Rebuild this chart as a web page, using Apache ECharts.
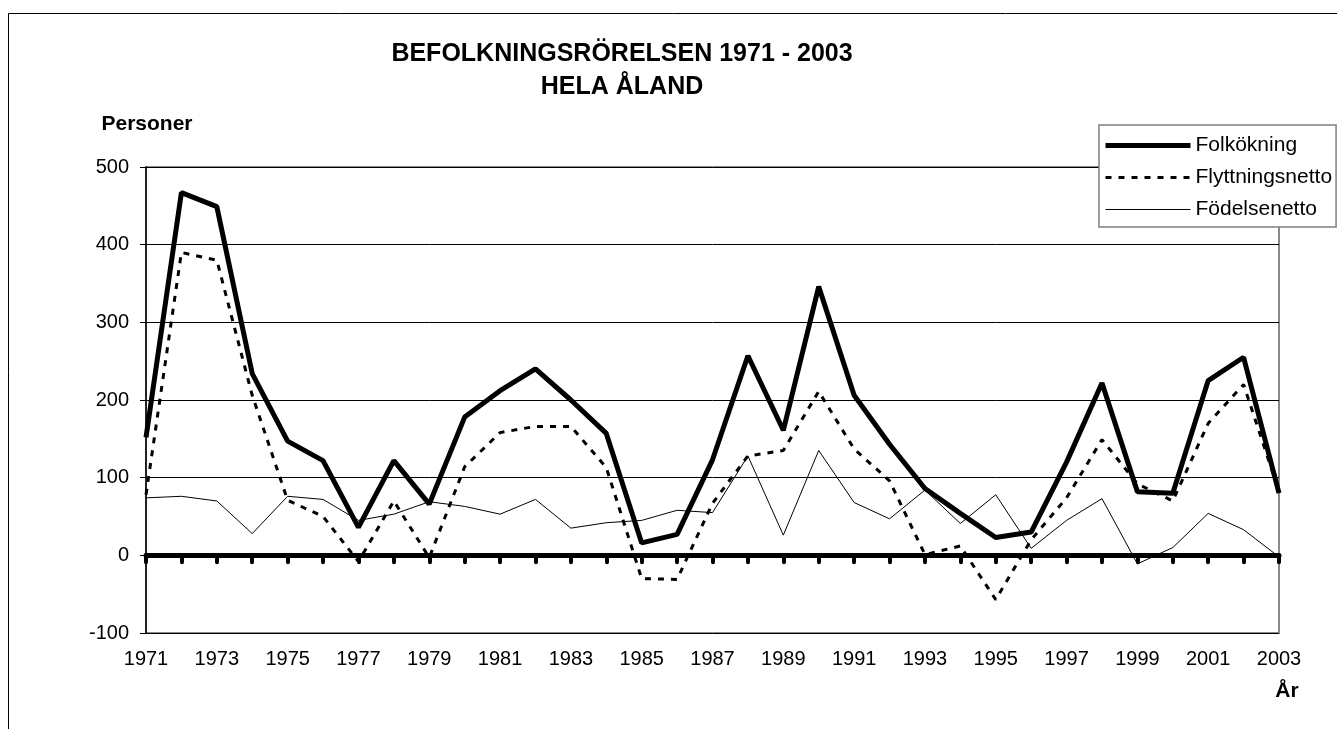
<!DOCTYPE html>
<html>
<head>
<meta charset="utf-8">
<title>Befolkningsrörelsen 1971 - 2003</title>
<script src="https://cdn.jsdelivr.net/npm/echarts@6/dist/echarts.min.js"></script>
<style>
    html, body { margin: 0; padding: 0; background: #fff; }
    #grafico { width: 1337px; height: 729px; }
</style>
</head>
<body>
<div id="grafico"></div>
<script>
    // datos
    var anios = ['1971', '1972', '1973', '1974', '1975', '1976', '1977', '1978', '1979', '1980',
        '1981', '1982', '1983', '1984', '1985', '1986', '1987', '1988', '1989', '1990',
        '1991', '1992', '1993', '1994', '1995', '1996', '1997', '1998', '1999', '2000',
        '2001', '2002', '2003'];
    var folkokning = [152, 467, 449, 234, 147, 122, 36, 122, 66, 178,
        212, 240, 200, 157, 16, 27, 123, 257, 161, 346,
        206, 143, 86, 54, 23, 30, 120, 222, 82, 80,
        225, 255, 80];
    var flyttningsnetto = [78, 390, 380, 206, 71, 50, -8, 70, -3, 114,
        158, 166, 166, 113, -30, -31, 67, 128, 135, 211,
        137, 96, 1, 12, -57, 20, 74, 149, 92, 70,
        170, 220, 82];
    var fodelsenetto = [74, 76, 70, 28, 76, 72, 45, 53, 69, 63,
        53, 72, 35, 42, 45, 58, 55, 128, 26, 135,
        68, 47, 84, 41, 78, 9, 45, 73, -11, 10,
        54, 33, -2];
    var nombres = ['Folkökning', 'Flyttningsnetto', 'Födelsenetto'];

    var fuente = "'Liberation Sans', Arial, sans-serif";

    // estilos de linea, usados en serie y leyenda
    var estilos = [
        { color: '#000', width: 5, type: 'solid' },
        { color: '#000', width: 3, type: [6, 7] },
        { color: '#000', width: 1, type: 'solid' }
    ];

    var chart = echarts.init(document.getElementById('grafico'));
    chart.setOption({
        animation: false,
        backgroundColor: '#fff',
        textStyle: { fontFamily: fuente, color: '#000' },
        title: {
            text: 'BEFOLKNINGSRÖRELSEN 1971 - 2003\nHELA ÅLAND',
            left: 622,
            top: 38,
            padding: 0,
            textAlign: 'center',
            textStyle: { fontSize: 25, fontWeight: 'bold', color: '#000', lineHeight: 33, fontFamily: fuente }
        },
        legend: {
            orient: 'vertical',
            left: 1099,
            top: 125,
            padding: [10, 4, 7, 4],
            itemGap: 11,
            itemWidth: 85,
            itemHeight: 14,
            borderColor: '#808080',
            borderWidth: 1.5,
            backgroundColor: '#fff',
            itemStyle: { opacity: 0 },
            data: nombres.map(function (n, i) {
                return { name: n, lineStyle: estilos[i], itemStyle: { opacity: 0 } };
            }),
            textStyle: { fontSize: 21, color: '#000', fontFamily: fuente }
        },
        grid: {
            left: 146,
            right: 58,
            top: 167,
            bottom: 96,
            show: true,
            borderColor: '#8a8a8a',
            borderWidth: 2
        },
        xAxis: [{ // etiquetas abajo
            type: 'category',
            data: anios,
            boundaryGap: false,
            position: 'bottom',
            axisLine: { show: false, onZero: false },
            axisTick: { show: false },
            axisLabel: { interval: 1, fontSize: 20, margin: 16, color: '#000', fontFamily: fuente },
            splitLine: { show: false }
        }, { // linea gruesa en cero
            type: 'category',
            data: anios,
            boundaryGap: false,
            position: 'bottom',
            axisLine: { show: true, onZero: true, onZeroAxisIndex: 0, lineStyle: { color: '#000', width: 5 } },
            axisTick: { show: true, interval: 0, length: 7, lineStyle: { color: '#000', width: 4, cap: 'round' } },
            axisLabel: { show: false },
            splitLine: { show: false }
        }],
        yAxis: {
            type: 'value',
            min: -100,
            max: 500,
            interval: 100,
            axisLine: { show: true, lineStyle: { color: '#000', width: 1.5 } },
            axisTick: { show: true, length: 6, lineStyle: { color: '#000', width: 1 } },
            axisLabel: { fontSize: 20, margin: 17, color: '#000', fontFamily: fuente },
            splitLine: { show: true, lineStyle: { color: '#000', width: 1 } }
        },
        graphic: [{
            type: 'rect',
            silent: true,
            z: -10,
            shape: { x: 8.5, y: 13.5, width: 1400, height: 800 },
            style: { fill: 'none', stroke: '#000', lineWidth: 1 }
        }, {
            type: 'text',
            x: 147,
            y: 124,
            style: { text: 'Personer', font: 'bold 21px ' + fuente, fill: '#000', align: 'center', verticalAlign: 'middle' }
        }, {
            type: 'text',
            x: 1287,
            y: 691,
            style: { text: 'År', font: 'bold 21px ' + fuente, fill: '#000', align: 'center', verticalAlign: 'middle' }
        }],
        series: [{
            name: nombres[0],
            type: 'line',
            data: folkokning,
            symbol: 'none',
            lineStyle: estilos[0],
            itemStyle: { color: '#000' },
            z: 4
        }, {
            name: nombres[1],
            type: 'line',
            data: flyttningsnetto,
            symbol: 'none',
            lineStyle: estilos[1],
            itemStyle: { color: '#000' },
            z: 3
        }, {
            name: nombres[2],
            type: 'line',
            data: fodelsenetto,
            symbol: 'none',
            lineStyle: estilos[2],
            itemStyle: { color: '#000' },
            z: 2
        }]
    });
</script>
</body>
</html>
